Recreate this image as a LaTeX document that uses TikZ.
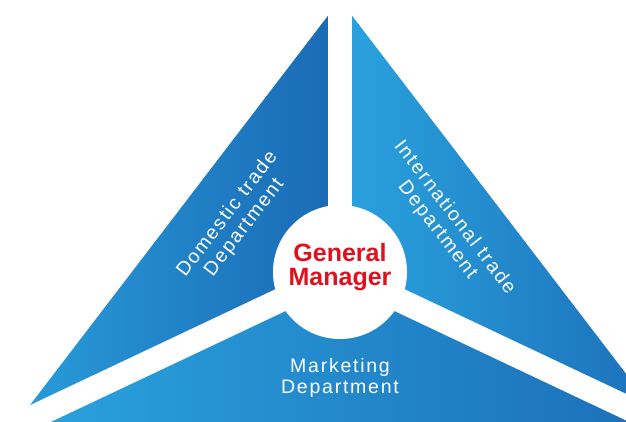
\documentclass[tikz,border=0pt]{standalone}
\usepackage{fontspec}
\setmainfont{Liberation Sans}
\newfontfamily\deptfont[LetterSpace=9]{Liberation Sans}
\usetikzlibrary{calc}
\definecolor{gmred}{HTML}{E0101E}
\definecolor{bluelight}{HTML}{2AA3DF}
\definecolor{bluedark}{HTML}{1A69B4}
\tikzset{
    dept/.style={text=white, align=center, inner sep=0pt,
        font=\deptfont\fontsize{19.5}{21.5}\selectfont},
    boss/.style={text=gmred, align=center, inner sep=0pt,
        font=\bfseries\fontsize{25}{24}\selectfont},
    gap/.style={white, line width=24pt}
}
\begin{document}
\begin{tikzpicture}[x=1pt, y=-1pt]
    \useasboundingbox (0,0) rectangle (626,422);
    \clip (0,0) rectangle (626,422);
    \coordinate (apex) at (340,0);
    \coordinate (lv) at (14,426);
    \coordinate (rv) at (666,426);
    \coordinate (mid) at (340,272);

    \shade [left color=bluelight!90!bluedark, right color=bluedark] (apex) -- (lv) -- (mid) -- cycle;
    \shade [left color=bluelight, right color=bluedark!90!bluelight] (apex) -- (rv) -- (mid) -- cycle;
    \shade [left color=bluelight, right color=bluedark!90!bluelight] (lv) -- (rv) -- (mid) -- cycle;

    \foreach \p in {apex,lv,rv}
        {\draw [gap] (mid) -- ($(mid)!1.3!(\p)$);}
    \fill [white] (mid) circle (67pt);

    \node [boss] (gm) at (340,267) {General\\Manager};
    \node [dept, rotate=52.6] (dom) at (236,221) {Domestic trade\\Department};
    \node [dept, rotate=-52.6] (intl) at (446,224) {International trade\\Department};
    \node [dept] (mkt) at (340,378) {Marketing\\Department};
\end{tikzpicture}
\end{document}
